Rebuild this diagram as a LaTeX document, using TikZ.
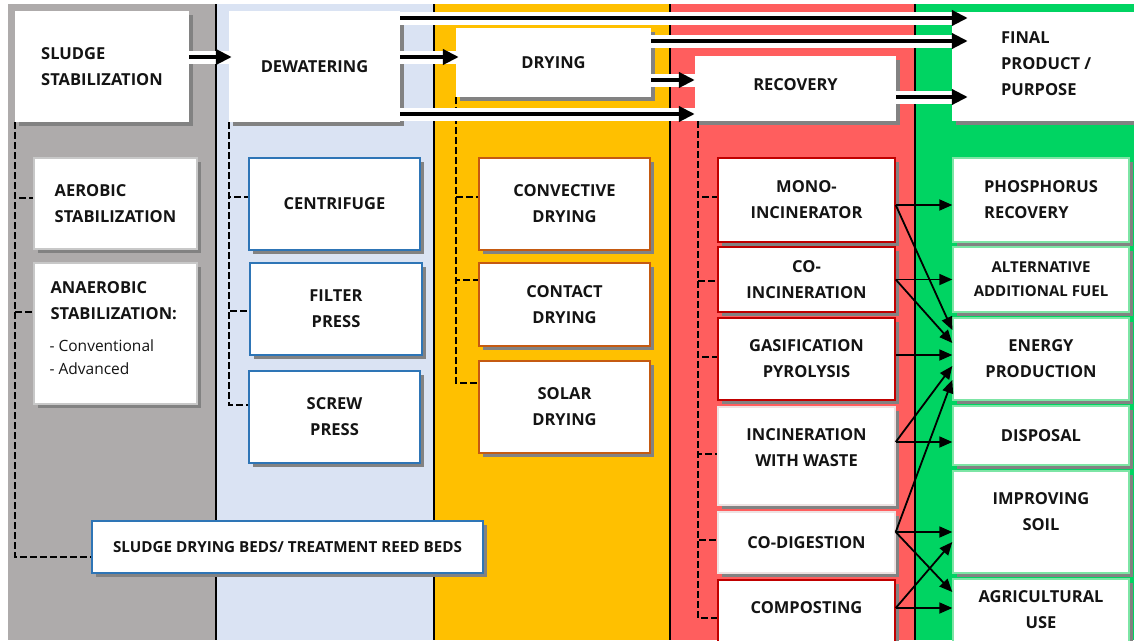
\documentclass[tikz,border=0pt]{standalone}
\usepackage{fontspec}
\setmainfont{Open Sans}
\usetikzlibrary{arrows.meta,shadows,backgrounds}
\definecolor{cgrey}{HTML}{AEABAB}
\definecolor{cblue}{HTML}{DAE3F3}
\definecolor{cyellow}{HTML}{FFC000}
\definecolor{cred}{HTML}{FF5E5E}
\definecolor{cgreen}{HTML}{00D462}
\definecolor{shad}{HTML}{828282}
\definecolor{bblue}{HTML}{2E75B6}
\definecolor{borange}{HTML}{C55A11}
\definecolor{bred}{HTML}{C00000}
\definecolor{bgreen}{HTML}{7DE5A5}
\definecolor{bgrey}{HTML}{C8C8C8}
\definecolor{tcol}{HTML}{141414}
\newcommand\mkbox[7]{%
  \pgfmathsetmacro\bxcx{(#3+#5)/2}\pgfmathsetmacro\bxcy{(#4+#6)/2}%
  \pgfmathsetmacro\bxw{#5-#3}\pgfmathsetmacro\bxh{#6-#4}%
  \node[#1, minimum width=\bxw pt, minimum height=\bxh pt] (#2) at (\bxcx,\bxcy) {#7};}
\begin{document}
\begin{tikzpicture}[x=1pt,y=-1pt,
  box/.style={fill=white, inner sep=0pt, align=center, text=tcol,
    font=\fontsize{16.5}{26}\selectfont\bfseries,
    general shadow={fill=shad, shadow xshift=4pt, shadow yshift=-4pt}},
  hbox/.style={box, draw=none},
  gbox/.style={box, draw=bgrey, line width=1.2pt},
  dbox/.style={box, draw=bblue, line width=1.4pt},
  ybox/.style={box, draw=borange, line width=1.4pt},
  rbox/.style={box, draw=bred, line width=1.4pt},
  lbox/.style={box, draw=bgrey!80!bred!30, line width=1.4pt},
  fbox/.style={box, draw=bgreen, line width=1.4pt},
  smallfont/.style={font=\fontsize{15}{24}\selectfont\bfseries},
  bedfont/.style={font=\fontsize{15.2}{24}\selectfont\bfseries},
  txt/.style={inner sep=0pt, text=tcol, font=\fontsize{16.5}{26}\selectfont\bfseries},
  dashc/.style={draw=black, line width=1.5pt, dash pattern=on 6.5pt off 3.5pt},
  band/.style={draw=white, line width=13pt},
  fat/.style={draw=black, line width=4.5pt, -{Triangle[length=16pt,width=15pt]}},
  tarr/.style={draw=black, line width=1.8pt, -{Triangle[length=13pt,width=11pt]}},
  sep/.style={draw=black, line width=1.3pt}
]
\useasboundingbox (0,0) rectangle (1134,640);

% headers
\mkbox{hbox, align=left}{sludge}{15}{11}{189}{122}{SLUDGE\\STABILIZATION}
\mkbox{hbox}{dewater}{229}{11}{400}{122}{DEWATERING}
\mkbox{hbox}{drying}{456}{28}{651}{97}{DRYING}
\mkbox{hbox}{recovery}{695}{56}{896}{121}{}
\node[txt] (recovery-t) at ([yshift=4pt]recovery.center) {RECOVERY};
\mkbox{hbox}{final}{952}{12}{1140}{121}{}
\node[txt, align=left, anchor=west] (final-t) at ([xshift=49pt,yshift=3pt]final.west) {FINAL\\PRODUCT /\\PURPOSE};

% stabilization column
\mkbox{gbox, align=left}{aerobic}{34}{158}{197}{249}{AEROBIC\\STABILIZATION}
\mkbox{gbox}{anaerobic}{34}{263}{197}{404}{}
\node[txt, align=left, anchor=north west] (anaerobic-t) at ([xshift=17pt,yshift=-19pt]anaerobic.north west) {ANAEROBIC\\STABILIZATION:};
\node[txt, align=left, anchor=north west, font=\fontsize{15.5}{23}\selectfont] (anaerobic-s) at ([xshift=16pt,yshift=-77.5pt]anaerobic.north west) {- Conventional\\- Advanced};

% dewatering column
\mkbox{dbox}{centrifuge}{249}{158}{420}{250}{CENTRIFUGE}
\mkbox{dbox}{filter}{250}{263}{422}{355}{FILTER\\PRESS}
\mkbox{dbox}{screw}{249}{371}{420}{463}{SCREW\\PRESS}

% drying column
\mkbox{ybox}{convective}{479}{158}{650}{250}{CONVECTIVE\\DRYING}
\mkbox{ybox}{contact}{479}{263}{650}{346}{CONTACT\\DRYING}
\mkbox{ybox}{solar}{479}{361}{650}{453}{SOLAR\\DRYING}

% beds
\mkbox{dbox, bedfont}{beds}{92}{521}{483}{573}{SLUDGE DRYING BEDS/ TREATMENT REED BEDS}

% recovery column
\mkbox{rbox}{mono}{718}{158}{895}{242}{MONO-\\INCINERATOR}
\mkbox{rbox}{coinc}{718}{247}{895}{312}{CO-\\INCINERATION}
\mkbox{rbox}{gasif}{718}{318}{895}{400}{GASIFICATION\\PYROLYSIS}
\mkbox{lbox}{incin}{718}{407}{895}{505}{}
\node[txt, align=center] (incin-t) at ([yshift=8pt]incin.center) {INCINERATION\\WITH WASTE};
\mkbox{lbox}{codig}{718}{512}{895}{573}{CO-DIGESTION}
\mkbox{rbox}{compost}{718}{580}{895}{645}{}
\node[txt] (compost-t) at ([yshift=5pt]compost.center) {COMPOSTING};

% final column
\mkbox{fbox, align=left}{phos}{953}{158}{1129}{242}{PHOSPHORUS\\RECOVERY}
\mkbox{fbox, smallfont}{alt}{953}{247}{1129}{312}{ALTERNATIVE\\ADDITIONAL FUEL}
\mkbox{fbox}{energy}{953}{318}{1129}{400}{ENERGY\\PRODUCTION}
\mkbox{fbox}{disposal}{953}{406}{1129}{465}{DISPOSAL}
\mkbox{fbox}{soil}{953}{471}{1129}{573}{}
\node[txt, align=center] (soil-t) at ([yshift=10pt]soil.center) {IMPROVING\\SOIL};
\mkbox{fbox}{agri}{953}{579}{1129}{645}{}
\node[txt, align=center] (agri-t) at ([yshift=2pt]agri.center) {AGRICULTURAL\\USE};

\begin{scope}[on background layer]
% columns
\fill[cgrey] (8,4) rectangle (216,640);
\fill[cblue] (216,4) rectangle (434,640);
\fill[cyellow] (434,4) rectangle (670,640);
\fill[cred] (670,4) rectangle (915,640);
\fill[cgreen] (915,4) rectangle (1134,640);
\foreach \xx in {216,434,670,915} \draw[sep] (\xx,4) -- (\xx,640);
% dashed connectors
\draw[dashc] (sludge.south west) |- ([yshift=5.5pt]aerobic.west);
\draw[dashc] (sludge.south west) |- ([yshift=21.5pt]anaerobic.west);
\draw[dashc] (sludge.south west) |- ([yshift=-10pt]beds.west);
\draw[dashc] (dewater.south west) |- ([yshift=7pt]centrifuge.west);
\draw[dashc] (dewater.south west) |- ([yshift=-2pt]filter.west);
\draw[dashc] (dewater.south west) |- ([yshift=12pt]screw.west);
\draw[dashc] (drying.south west) |- ([yshift=7pt]convective.west);
\draw[dashc] (drying.south west) |- ([yshift=24.5pt]contact.west);
\draw[dashc] (drying.south west) |- ([yshift=24pt]solar.west);
\draw[dashc] ([xshift=3pt]recovery.south west) |- ([yshift=3pt]mono.west);
\draw[dashc] ([xshift=3pt]recovery.south west) |- ([yshift=-1.5pt]coinc.west);
\draw[dashc] ([xshift=3pt]recovery.south west) |- ([yshift=2pt]gasif.west);
\draw[dashc] ([xshift=3pt]recovery.south west) |- ([yshift=2pt]incin.west);
\draw[dashc] ([xshift=3pt]recovery.south west) |- ([yshift=2.5pt]codig.west);
\draw[dashc] ([xshift=3pt]recovery.south west) |- ([yshift=-5.5pt]compost.west);
\end{scope}

% thick flow arrows
\draw[band] ([yshift=9.5pt]sludge.east) -- ([xshift=3pt,yshift=9.5pt]dewater.west);
\draw[fat]  ([yshift=9.5pt]sludge.east) -- ([xshift=3pt,yshift=9.5pt]dewater.west);
\draw[band] ([yshift=9.5pt]dewater.east) -- ([xshift=3pt,yshift=5.5pt]drying.west);
\draw[fat]  ([yshift=9.5pt]dewater.east) -- ([xshift=3pt,yshift=5.5pt]drying.west);
\draw[band] ([yshift=48.5pt]dewater.east) -- ([xshift=16pt,yshift=48.5pt]final.west);
\draw[fat]  ([yshift=48.5pt]dewater.east) -- ([xshift=16pt,yshift=48.5pt]final.west);
\draw[band] ([yshift=-47.5pt]dewater.east) -- ([yshift=-25.5pt]recovery.west);
\draw[fat]  ([yshift=-47.5pt]dewater.east) -- ([yshift=-25.5pt]recovery.west);
\draw[band] ([yshift=21.5pt]drying.east) -- ([xshift=16pt,yshift=25.5pt]final.west);
\draw[fat]  ([yshift=21.5pt]drying.east) -- ([xshift=16pt,yshift=25.5pt]final.west);
\draw[band] ([yshift=-17.5pt]drying.east) -- ([yshift=8.5pt]recovery.west);
\draw[fat]  ([yshift=-17.5pt]drying.east) -- ([yshift=8.5pt]recovery.west);
\draw[band] ([yshift=-8.5pt]recovery.east) -- ([xshift=16pt,yshift=-30.5pt]final.west);
\draw[fat]  ([yshift=-8.5pt]recovery.east) -- ([xshift=16pt,yshift=-30.5pt]final.west);

% thin arrows
\draw[tarr] ([yshift=-5pt]mono.east) -- ([yshift=-5pt]phos.west);
\draw[tarr] ([yshift=-5pt]mono.east) -- ([yshift=29pt]energy.west);
\draw[tarr] (coinc.east) -- (alt.west);
\draw[tarr] (coinc.east) -- ([yshift=16pt]energy.west);
\draw[tarr] ([yshift=4pt]gasif.east) -- ([yshift=4pt]energy.west);
\draw[tarr] ([yshift=14pt]incin.east) -- ([yshift=-6.5pt]disposal.west);
\draw[tarr] ([yshift=14pt]incin.east) -- ([yshift=-7pt]energy.west);
\draw[tarr] ([yshift=10.5pt]codig.east) -- ([yshift=-21pt]energy.west);
\draw[tarr] ([yshift=10.5pt]codig.east) -- ([yshift=-10pt]soil.west);
\draw[tarr] ([yshift=10.5pt]codig.east) -- ([yshift=20pt]agri.west);
\draw[tarr] ([yshift=4.5pt]compost.east) -- ([yshift=4pt]agri.west);
\draw[tarr] ([yshift=4.5pt]compost.east) -- ([yshift=-20pt]soil.west);
\end{tikzpicture}
\end{document}
